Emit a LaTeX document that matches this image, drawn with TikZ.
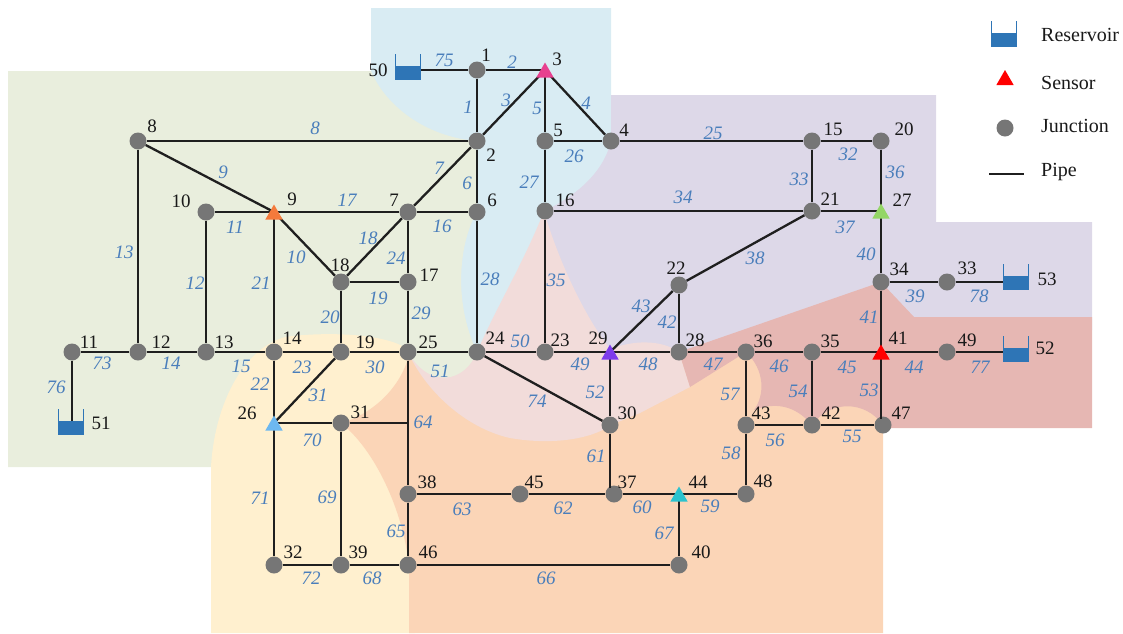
\documentclass[tikz,border=0pt]{standalone}
\usepackage{fontspec}
\setmainfont{Liberation Serif}
\usetikzlibrary{shapes.geometric}
\definecolor{cgreen}{HTML}{E9EEDD}
\definecolor{cblue}{HTML}{D9ECF3}
\definecolor{cpurple}{HTML}{DDD8E8}
\definecolor{cyellow}{HTML}{FFF0CF}
\definecolor{cpeach}{HTML}{FBD5B7}
\definecolor{cpink}{HTML}{F2DCDA}
\definecolor{cred}{HTML}{E6B7B3}
\definecolor{cwater}{HTML}{2E75B6}
\definecolor{cjunction}{HTML}{767676}
\definecolor{clabel}{HTML}{4A7EBB}
\tikzset{
  junction/.style={circle,fill=cjunction,draw=none,inner sep=0pt,minimum size=17pt},
  hub/.style={inner sep=0pt,minimum size=0pt,outer sep=0pt},
  sensor/.style={regular polygon,regular polygon sides=3,draw=none,inner sep=0pt,minimum size=20pt,yshift=-2.5pt},
  pipe/.style={draw=black!88,line width=2.3pt},
  nlabel/.style={font=\fontsize{19}{19}\selectfont,text=black!90,inner sep=0pt},
  plabel/.style={font=\fontsize{19}{19}\selectfont\itshape,text=clabel,inner sep=0pt},
  legendtext/.style={font=\fontsize{20}{20}\selectfont,text=black!90,inner sep=0pt,anchor=west},
}
\newcommand{\reservoirat}[2]{%
  \fill[cwater] (#1-12.5,#2-3) rectangle (#1+12.5,#2+10);
  \draw[cwater,line width=1pt] (#1-12.5,#2-15) -- (#1-12.5,#2+10) -- (#1+12.5,#2+10) -- (#1+12.5,#2-15);
}
\begin{document}
\begin{tikzpicture}[x=1pt,y=-1pt]
\useasboundingbox (0,0) rectangle (1123,633);
% regions
\fill[cblue] (371,8) -- (611,8) -- (611,210) -- (544,240) -- (490,352) -- (440,352) -- (371,71) -- cycle;
\fill[cgreen] (8,71) -- (371,71) .. controls (385,105) and (425,137) .. (477,141) -- (477,212)
  .. controls (460,240) and (452,300) .. (477,352)
  -- (408,352) -- (400,467) -- (8,467) -- cycle;
\fill[cpurple] (611,95) -- (936,95) -- (936,222) -- (1092,222) -- (1092,330) -- (881,330) -- (679,360) -- (590,360) -- (535,260) -- (544,211)
  .. controls (572,198) and (603,175) .. (611,141) -- cycle;
\fill[cyellow] (211,633) -- (211,467) .. controls (214,410) and (240,350) .. (285,337)
  .. controls (320,332) and (385,332) .. (409,350) -- (415,633) -- cycle;
\fill[cpeach] (409,633) -- (409,566) .. controls (403,510) and (375,450) .. (341,423)
  .. controls (370,415) and (400,390) .. (409,355) -- (500,352) -- (883,352) -- (883,633) -- cycle;
\fill[cpink] (544,211) .. controls (555,250) and (580,310) .. (610,349)
  .. controls (640,338) and (665,342) .. (679,352) -- (690,387)
  -- (640,413) -- (611,425) .. controls (590,440) and (550,445) .. (510,438)
  .. controls (465,428) and (425,390) .. (408,352)
  -- (477,352) .. controls (495,310) and (525,260) .. (544,211) -- cycle;
\fill[cgreen] (408,352) .. controls (430,390) and (465,382) .. (477,352) -- cycle;
\fill[cred] (881,282) -- (679,352) -- (690,387) -- (746,352)
  .. controls (765,370) and (765,395) .. (754,410)
  .. controls (775,402) and (795,405) .. (812,425)
  .. controls (830,400) and (865,400) .. (883,425)
  -- (883,428) -- (1092,428) -- (1092,317) -- (914,317) -- cycle;
% junctions
\foreach \n/\x/\y in {1/477/70,2/477/141,5/545/141,4/611/141,15/812/141,20/881/141,8/138/141,
  10/206/212,7/408/212,6/477/212,16/545/211,21/812/211,
  18/341/282,17/408/282,22/679/285,34/881/282,33/947/282,
  11/72/352,12/138/352,13/206/352,14/274/352,19/341/352,25/408/352,24/477/352,23/545/352,28/679/352,36/746/352,35/812/352,49/947/352,
  31/341/423,30/610/425,43/746/425,42/812/425,47/883/425,
  38/408/494,45/520/494,37/614/494,48/746/494,
  32/274/565,39/341/565,46/408/565,40/679/565}
  \node[junction] (n\n) at (\x,\y) {};
% sensor hubs and reservoir inlets
\foreach \n/\x/\y in {3/545/70,9/274/212,27/881/211,26/274/423,29/610/352,41/881/352,44/679/494,
  50/407/70,53/1016/282,52/1016/352,51/72/423}
  \node[hub] (n\n) at (\x,\y) {};
\coordinate (j64) at (408,423);
\coordinate (j37) at (n30 |- n37);
\coordinate (j47) at (n41 |- n47);
% pipes
\foreach \a/\b in {50/1,1/3,1/2,2/3,3/4,3/5,2/8,8/9,8/12,2/6,2/7,9/10,9/7,7/6,5/4,5/16,6/24,16/23,16/21,4/15,15/20,15/21,20/27,21/27,27/34,34/33,33/53,21/22,22/28,22/29,34/41,10/13,9/14,9/18,7/18,7/17,18/17,18/19,17/25,
  11/12,12/13,13/14,14/19,19/25,25/24,24/23,23/29,29/28,28/36,36/35,35/41,41/49,49/52,11/51,14/26,19/26,26/31,25/38,26/32,31/39,32/39,39/46,38/46,46/40,38/45,45/37,37/44,44/48,44/40,29/30,24/30,36/43,35/42,43/42,42/47,43/48}
  \draw[pipe] (n\a) -- (n\b);
\draw[pipe] (n31) -- (j64);
\draw[pipe,shorten >=6pt] (n30) -- (j37);
\draw[pipe,shorten >=6pt] (n41) -- (j47);
% sensors
\foreach \n/\c in {3/E8408F,9/F47A3C,27/93D665,26/6DB8F0,29/7D3CEB,41/FF0000,44/2CC3CF}{
  \definecolor{csensor}{HTML}{\c}
  \node[sensor,fill=csensor] (s\n) at (n\n) {};
}
% reservoirs
\reservoirat{407.5}{69}
\reservoirat{1016}{279}
\reservoirat{1016}{351}
\reservoirat{70.5}{424}
% junction labels
\foreach \t/\x/\y in {1/486/55,3/557/59,2/491/155,50/378/70,4/624/130,5/558/130,8/152/126,9/292/199,10/181/201,7/394/200,6/492/200,18/340/265,17/429/275,16/565/200,
  15/833/129,20/904/129,21/830/199,27/902/200,22/676/268,34/899/269,33/967/268,53/1047/279,
  11/89/342,12/161/342,13/224/342,14/292/338,19/365/342,25/428/342,24/495/338,23/560/340,29/598/338,28/695/340,
  26/247/413,31/360/412,51/101/423,38/427/482,45/534/482,32/293/552,39/358/552,46/428/552,
  36/763/341,35/830/341,41/898/338,49/967/340,52/1045/348,30/627/413,43/761/413,42/831/413,47/901/413,37/627/482,44/698/482,48/763/481,40/701/552}
  \node[nlabel] (t\t) at (\x,\y) {\t};
% pipe labels
\foreach \t/\x/\y in {75/444/60,2/512/62,1/468/107,3/506/100,5/537/108,8/315/128,7/439/168,6/467/183,27/529/182,9/223/172,17/347/200,11/235/227,16/442/226,13/124/252,12/195/283,21/261/283,10/296/257,18/368/238,24/396/258,19/378/298,28/490/279,35/556/280,20/330/317,29/421/313,
  4/586/103,25/713/133,26/574/156,32/848/154,33/799/179,36/895/172,34/683/197,37/845/227,40/866/254,38/755/258,39/915/296,78/979/296,43/641/306,41/869/317,42/667/322,
  73/102/363,14/171/363,15/241/366,22/260/384,23/302/367,30/375/367,31/318/395,76/56/387,51/440/371,50/520/341,64/423/422,70/312/440,71/260/498,69/327/497,63/462/509,65/396/531,72/311/578,68/372/578,66/546/578,74/537/401,
  49/580/364,48/648/364,47/713/364,46/779/366,45/847/367,44/914/367,77/980/367,52/595/392,57/730/394,54/798/391,53/869/390,56/775/440,55/852/436,61/596/456,58/731/453,62/563/508,60/642/507,59/710/506,67/664/533}
  \node[plabel] (p\t) at (\x,\y) {\t};
% legend
\reservoirat{1003.5}{36}
\node[sensor,fill=red,yshift=2.5pt] (legsensor) at (1005,80) {};
\node[junction] (legjunction) at (1005,128) {};
\coordinate (legpipea) at (989,174);
\coordinate (legpipeb) at (1024,174);
\draw[pipe] (legpipea) -- (legpipeb);
\node[legendtext] (legr) at (1041,35) {Reservoir};
\node[legendtext] (legs) at (1041,83) {Sensor};
\node[legendtext] (legj) at (1041,126) {Junction};
\node[legendtext] (legp) at (1041,172) {Pipe};
\end{tikzpicture}
\end{document}
